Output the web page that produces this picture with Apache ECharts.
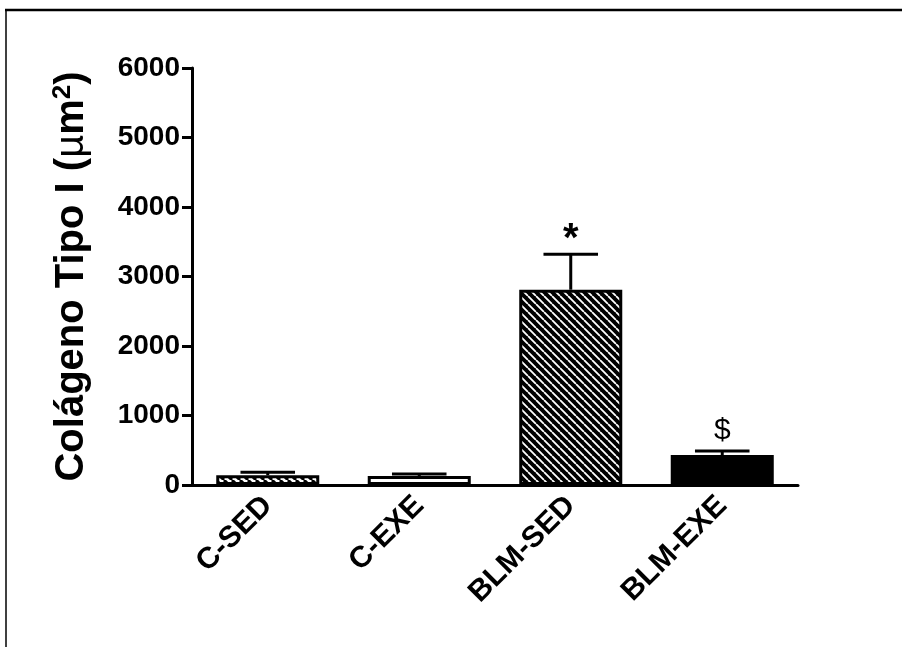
<!DOCTYPE html>
<html>
<head>
<meta charset="utf-8">
<script src="https://cdn.jsdelivr.net/npm/echarts@6/dist/echarts.min.js"></script>
<style>
  html, body { margin: 0; padding: 0; background: #fff; }
  #chart { width: 902px; height: 647px; }
</style>
</head>
<body>
<div id="chart"></div>
<script>
// Group labels and measured type I collagen area (mean and SEM, µm²)
const categories = ['C-SED', 'C-EXE', 'BLM-SED', 'BLM-EXE'];
const means = [140, 130, 2810, 430];
const sems = [42, 30, 510, 58];
const marks = ['', '', '*', '$'];
const yTicks = { min: 0, max: 6000, interval: 1000 };

const FONT = '"Liberation Sans", Arial, Helvetica, sans-serif';

// Diagonal hatch patterns drawn on small tiles
function hatch(bg, fg, lw, size) {
  const c = document.createElement('canvas');
  c.width = size; c.height = size;
  const g = c.getContext('2d');
  g.fillStyle = bg;
  g.fillRect(0, 0, size, size);
  g.strokeStyle = fg;
  g.lineWidth = lw;
  g.beginPath();
  for (const k of [-size, 0, size]) {
    g.moveTo(k, 0);
    g.lineTo(k + size, size);
  }
  g.stroke();
  return { image: c, repeat: 'repeat' };
}

const fills = [
  hatch('#ffffff', '#000000', 3, 8),
  '#ffffff',
  hatch('#000000', '#ffffff', 1.8, 8),
  '#000000'
];

const chart = echarts.init(document.getElementById('chart'), null, { renderer: 'canvas' });

chart.setOption({
  animation: false,
  backgroundColor: '#ffffff',
  grid: { left: 192, right: 104, top: 68, bottom: 162 },
  graphic: [
    { type: 'line', shape: { x1: 5, y1: 10, x2: 902, y2: 10 }, style: { stroke: '#000', lineWidth: 2.5 } },
    { type: 'line', shape: { x1: 6, y1: 9, x2: 6, y2: 647 }, style: { stroke: '#000', lineWidth: 1.5 } }
  ],
  xAxis: {
    type: 'category',
    data: categories,
    axisLine: { lineStyle: { color: '#000', width: 3 } },
    axisTick: { alignWithLabel: true, length: 11, lineStyle: { color: '#000', width: 3 } },
    axisLabel: {
      rotate: 45, margin: 16, color: '#000',
      fontFamily: FONT, fontWeight: 'bold', fontSize: 30
    },
    splitLine: { show: false }
  },
  yAxis: {
    type: 'value',
    min: yTicks.min, max: yTicks.max, interval: yTicks.interval,
    name: '{b|Colágeno Tipo I (}{mu|µ}{b|m}{sup|2}{b|)}',
    nameLocation: 'middle',
    nameGap: 98,
    nameTextStyle: {
      rich: {
        b: { fontFamily: FONT, fontWeight: 'bold', fontSize: 40, color: '#000', lineHeight: 44 },
        mu: { fontFamily: FONT, fontWeight: 'normal', fontSize: 40, color: '#000', lineHeight: 44 },
        sup: { fontFamily: FONT, fontWeight: 'bold', fontSize: 26, color: '#000', verticalAlign: 'top', lineHeight: 44, padding: [0, 0, 14, 0] }
      }
    },
    axisLine: { show: true, lineStyle: { color: '#000', width: 3 } },
    axisTick: { show: true, length: 10, lineStyle: { color: '#000', width: 3 } },
    axisLabel: {
      margin: 12, color: '#000', fontFamily: FONT, fontWeight: 'bold', fontSize: 28,
      formatter: function (v) { return String(v); }
    },
    splitLine: { show: false }
  },
  series: [
    {
      type: 'bar',
      barWidth: '68%',
      data: means.map((v, i) => ({
        value: v,
        itemStyle: { color: fills[i], borderColor: '#000', borderWidth: 3 }
      })),
      z: 2
    },
    {
      // upper error bars with caps
      type: 'custom',
      z: 3,
      data: means.map((m, i) => [i, m, m + sems[i]]),
      renderItem: function (params, api) {
        const i = api.value(0);
        const p0 = api.coord([i, api.value(1)]);
        const p1 = api.coord([i, api.value(2)]);
        const half = api.size([1, 0])[0] * 0.18;
        const st = { stroke: '#000', lineWidth: 3 };
        return {
          type: 'group',
          children: [
            { type: 'line', shape: { x1: p0[0], y1: p0[1], x2: p1[0], y2: p1[1] }, style: st },
            { type: 'line', shape: { x1: p1[0] - half, y1: p1[1], x2: p1[0] + half, y2: p1[1] }, style: st }
          ]
        };
      }
    },
    {
      // significance markers above the error bars
      type: 'custom',
      z: 4,
      data: means.map((m, i) => [i, m + sems[i]]),
      renderItem: function (params, api) {
        const i = api.value(0);
        const txt = marks[i];
        if (!txt) return null;
        const p = api.coord([i, api.value(1)]);
        const star = txt === '*';
        return {
          type: 'text',
          style: {
            text: txt,
            x: p[0],
            y: p[1] + (star ? 6 : -5),
            align: 'center',
            verticalAlign: 'bottom',
            fontFamily: FONT,
            fontWeight: star ? 'bold' : 'normal',
            fontSize: star ? 40 : 30,
            fill: '#000'
          }
        };
      }
    }
  ]
});
</script>
</body>
</html>
